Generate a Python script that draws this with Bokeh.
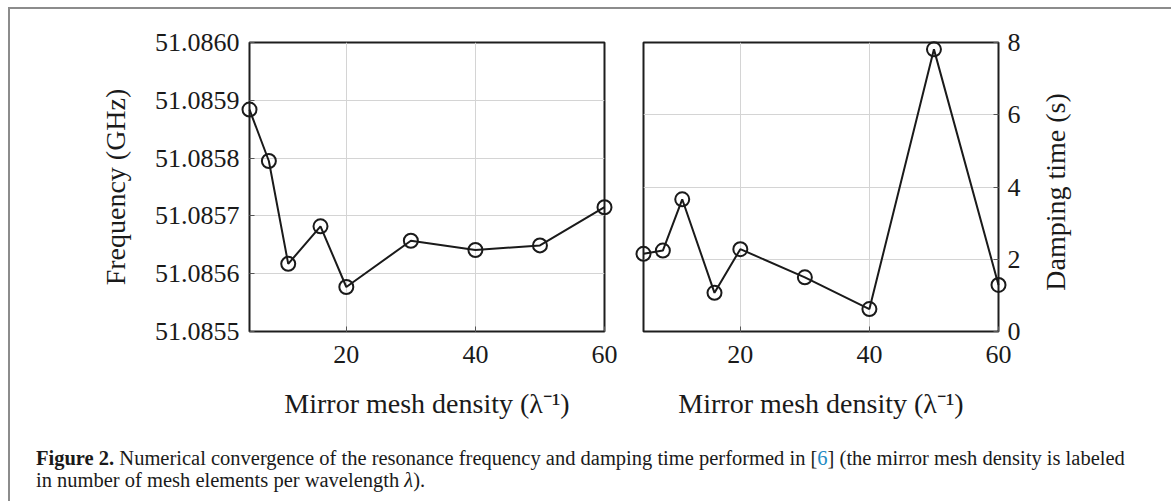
from bokeh.plotting import figure
from bokeh.models import FixedTicker, PrintfTickFormatter, Div
from bokeh.layouts import row, column
from bokeh.embed import file_html
from bokeh.resources import INLINE

# ---- data ----
mesh_density = [5, 8, 11, 16, 20, 30, 40, 50, 60]
frequency_ghz = [51.085884, 51.085795, 51.085617, 51.085682, 51.085577,
                 51.085657, 51.085641, 51.085649, 51.085715]
damping_time_s = [2.15, 2.24, 3.66, 1.07, 2.28, 1.50, 0.62, 7.81, 1.29]

x_ticks = [20, 40, 60]
freq_ticks = [51.0855, 51.0856, 51.0857, 51.0858, 51.0859, 51.0860]
damp_ticks = [0, 2, 4, 6, 8]

x_label = "Mirror mesh density (λ⁻¹)"
freq_label = "Frequency (GHz)"
damp_label = "Damping time (s)"

FONT = "Liberation Serif"
TICK_SIZE = "26px"
LABEL_SIZE = "28px"


def style(p):
    p.outline_line_color = "#1e1e1e"
    p.outline_line_width = 2
    p.background_fill_color = "white"
    p.border_fill_color = "white"
    p.grid.grid_line_color = "#d4d4d4"
    p.grid.grid_line_width = 1
    for ax in p.axis:
        ax.axis_line_color = None
        ax.major_tick_in = 5
        ax.major_tick_out = 0
        ax.major_tick_line_color = "#555555"
        ax.minor_tick_line_color = None
        ax.major_label_text_font = FONT
        ax.major_label_text_font_size = TICK_SIZE
        ax.major_label_text_color = "#1a1a1a"
        ax.axis_label_text_font = FONT
        ax.axis_label_text_font_size = LABEL_SIZE
        ax.axis_label_text_font_style = "normal"
        ax.axis_label_text_color = "#1a1a1a"
    p.xaxis.ticker = FixedTicker(ticks=x_ticks)
    p.xaxis.axis_label = x_label
    p.xaxis.major_label_standoff = 14
    p.xaxis.axis_label_standoff = 22


def draw(p, y):
    p.line(mesh_density, y, line_color="#1a1a1a", line_width=2, level="overlay")
    p.scatter(mesh_density, y, size=14, marker="circle", level="overlay",
              line_color="#1a1a1a", line_width=2, fill_color=None)


# ---- left: frequency ----
p1 = figure(width=613, height=430, x_range=(5, 60), y_range=(51.0855, 51.0860),
            output_backend="svg", toolbar_location=None,
            min_border_left=239, min_border_right=19,
            min_border_top=33, min_border_bottom=108)
draw(p1, frequency_ghz)
style(p1)
p1.yaxis.ticker = FixedTicker(ticks=freq_ticks)
p1.yaxis.formatter = PrintfTickFormatter(format="%.4f")
p1.yaxis.axis_label = freq_label
p1.yaxis.major_label_standoff = 10
p1.yaxis.axis_label_standoff = 21

# ---- right: damping time ----
p2 = figure(width=418, height=430, x_range=(5, 60), y_range=(0, 8),
            y_axis_location="right",
            output_backend="svg", toolbar_location=None,
            min_border_left=20, min_border_right=43,
            min_border_top=33, min_border_bottom=108)
draw(p2, damping_time_s)
style(p2)
p2.yaxis.ticker = FixedTicker(ticks=damp_ticks)
p2.yaxis.major_label_standoff = 9

# right-hand axis title, reading bottom-to-top as in the reference
damp_title = Div(
    text=(f'<div style="position:absolute; left:15px; top:183px; '
          f'transform:translate(-50%,-50%) rotate(-90deg); white-space:nowrap; '
          f'font-family:\'{FONT}\'; font-size:{LABEL_SIZE}; color:#1a1a1a; '
          f'line-height:30px;">{damp_label}</div>'),
    width=30, height=430, margin=0,
    styles={"position": "relative", "overflow": "visible"},
)
spacer = Div(text="", width=93, height=430, margin=0)

caption = Div(
    text=('<b>Figure 2.</b> Numerical convergence of the resonance frequency and '
          'damping time performed in [<span style="color:#1e8bc3">6</span>] '
          '(the mirror mesh density is labeled<br>'
          'in number of mesh elements per wavelength <i>λ</i>).'),
    width=1154, height=60,
    styles={"font-family": FONT, "font-size": "20.5px", "line-height": "22px",
            "color": "#1a1a1a", "white-space": "nowrap",
            "padding-left": "21px", "padding-top": "3px", "box-sizing": "border-box",
            "overflow": "visible"},
)

layout = column(row(p1, p2, damp_title, spacer), caption,
                styles={"border-left": "2px solid #8c8c8c",
                        "border-right": "2px solid #8c8c8c",
                        "border-top": "2px solid #8c8c8c",
                        "margin-left": "8px", "margin-top": "7px",
                        "background": "white"})

open("out.html", "w").write(file_html(layout, INLINE))
